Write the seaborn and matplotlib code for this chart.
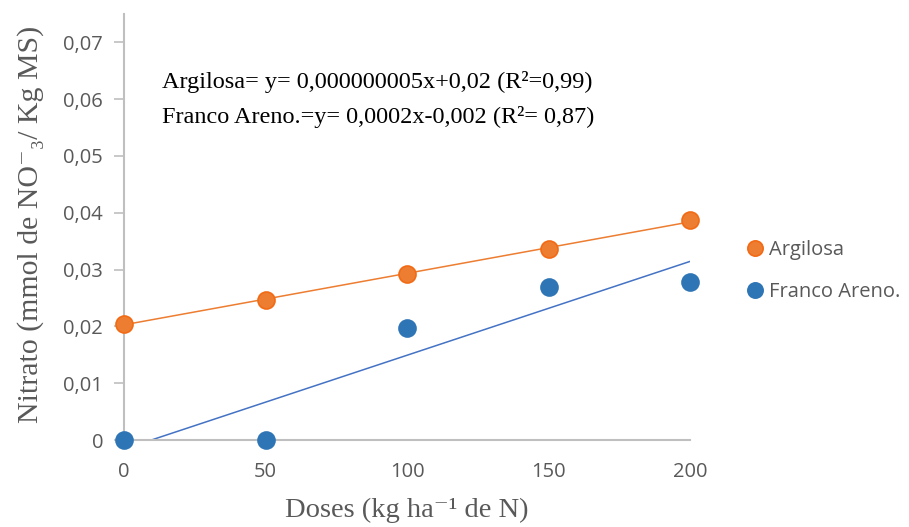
import numpy as np
import pandas as pd
import matplotlib
matplotlib.use("Agg")
import matplotlib.pyplot as plt
from matplotlib.lines import Line2D
import seaborn as sns

doses = [0, 50, 100, 150, 200]
argilosa = [0.0205, 0.0247, 0.0292, 0.0336, 0.0387]
franco = [0.0, 0.0, 0.0198, 0.0270, 0.0278]
series_names = ["Argilosa", "Franco Areno."]
y_ticks = [0, 0.01, 0.02, 0.03, 0.04, 0.05, 0.06, 0.07]
y_tick_labels = ["0", "0,01", "0,02", "0,03", "0,04", "0,05", "0,06", "0,07"]
x_ticks = [0, 50, 100, 150, 200]

df = pd.DataFrame({
    "Dose": doses * 2,
    "Nitrato": argilosa + franco,
    "Solo": [series_names[0]] * 5 + [series_names[1]] * 5,
})

sns.set_style("white")

colors = {"Argilosa": "#ED7D31", "Franco Areno.": "#2E75B6"}
line_colors = {"Argilosa": "#ED7D31", "Franco Areno.": "#4472C4"}
edge_colors = {"Argilosa": "#F36A14", "Franco Areno.": "#2E75B6"}

fig = plt.figure(figsize=(9.09, 5.27), dpi=100)
ax = fig.add_axes([124 / 909, 1 - 440 / 527, (690 - 124) / 909, (440 - 14) / 527])

for name in series_names:
    sub = df[df["Solo"] == name]
    sns.regplot(data=sub, x="Dose", y="Nitrato", ax=ax, ci=None, scatter=False,
                line_kws=dict(color=line_colors[name], lw=1.1), truncate=True)

for name in series_names:
    sub = df[df["Solo"] == name]
    sns.scatterplot(data=sub, x="Dose", y="Nitrato", ax=ax, s=150,
                    color=colors[name], edgecolor=edge_colors[name], linewidth=1.2,
                    zorder=5, clip_on=False, legend=False)

ax.set_xlim(0, 200)
ax.set_ylim(0, 0.075)
ax.set_yticks(y_ticks)
ax.set_yticklabels(y_tick_labels)
ax.set_xticks(x_ticks)
ax.set_xticklabels([str(v) for v in x_ticks])
ax.set_xticks([200], minor=True)

sans = ["Open Sans", "DejaVu Sans"]
for lab in ax.get_xticklabels() + ax.get_yticklabels():
    lab.set_fontfamily(sans)
    lab.set_fontsize(14.5)
    lab.set_color("#595959")

ax.tick_params(axis="y", which="major", length=7, width=1.2, color="#BFBFBF",
               direction="out", pad=8, left=True)
ax.tick_params(axis="x", which="major", length=0, pad=16, bottom=True)
ax.tick_params(axis="x", which="minor", length=7, width=1.2, color="#BFBFBF",
               direction="out", bottom=True)

for side in ["top", "right"]:
    ax.spines[side].set_visible(False)
for side in ["left", "bottom"]:
    ax.spines[side].set_color("#BFBFBF")
    ax.spines[side].set_linewidth(1.5)

serif = ["Liberation Serif", "DejaVu Serif"]
ax.set_xlabel("Doses (kg ha\u207b\u00b9 de N)", fontfamily=serif, fontsize=20.5,
              color="#595959", labelpad=11)
ax.set_ylabel("Nitrato (mmol de NO\u207b\u2083/ Kg MS)", fontfamily=serif,
              fontsize=21.5, color="#595959")
ax.yaxis.set_label_coords(-0.141, 0.505)

fig.text(162 / 909, 1 - 82 / 527,
         "Argilosa= y= 0,000000005x+0,02 (R\u00b2=0,99)",
         fontfamily=serif, fontsize=17.5, color="black", va="center", ha="left")
fig.text(162 / 909, 1 - 117 / 527,
         "Franco Areno.=y= 0,0002x-0,002 (R\u00b2= 0,87)",
         fontfamily=serif, fontsize=17.5, color="black", va="center", ha="left")

handles = [Line2D([], [], ls="", marker="o", markersize=11,
                  markerfacecolor=colors[n], markeredgecolor=edge_colors[n],
                  markeredgewidth=1.2) for n in series_names]
leg = fig.legend(handles, series_names, loc="center left",
                 bbox_to_anchor=(745 / 909, 1 - 271 / 527),
                 frameon=False, fontsize=14.5, handlelength=1.0,
                 handletextpad=0.2, labelspacing=1.1, borderaxespad=0,
                 borderpad=0)
for t in leg.get_texts():
    t.set_fontfamily(sans)
    t.set_color("#595959")

fig.savefig("out.png", dpi=100)
